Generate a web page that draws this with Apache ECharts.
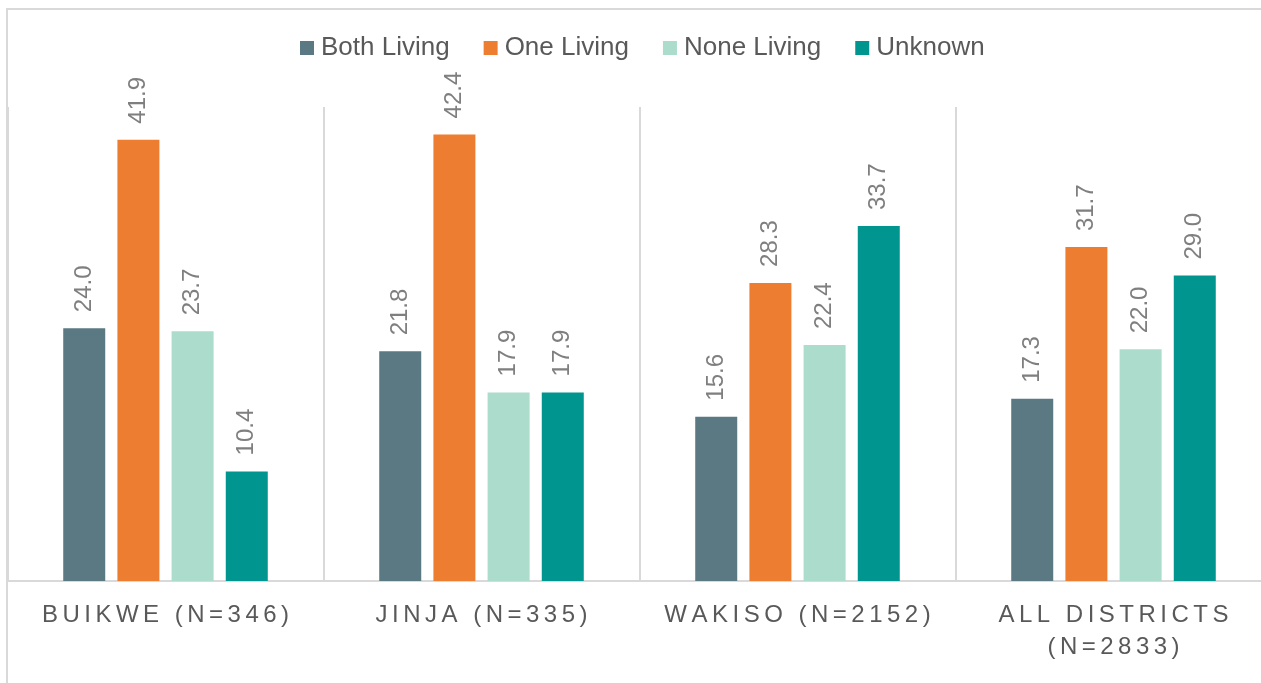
<!DOCTYPE html>
<html>
<head>
<meta charset="utf-8">
<title>Parents living</title>
<script src="https://cdn.jsdelivr.net/npm/echarts@6/dist/echarts.min.js"></script>
<style>
  html, body { margin: 0; padding: 0; background: #fff; }
  #main-chart { width: 1261px; height: 683px; }
</style>
</head>
<body>
<div id="main-chart"></div>
<script>
var districts = ['BUIKWE (N=346)', 'JINJA (N=335)', 'WAKISO (N=2152)', 'ALL DISTRICTS\n(N=2833)'];
var bothLiving = [24.0, 21.8, 15.6, 17.3];
var oneLiving = [41.9, 42.4, 28.3, 31.7];
var noneLiving = [23.7, 17.9, 22.4, 22.0];
var unknown = [10.4, 17.9, 33.7, 29.0];

var font = 'Liberation Sans, Arial, sans-serif';

// spaced out capitals under the axis, one rich token per character
function spaced(value) {
    return value.split('\n').map(function (line) {
        return line.split('').map(function (ch) { return '{s|' + ch + '}'; }).join('');
    }).join('\n');
}

function barSeries(name, data, color) {
    return {
        name: name,
        type: 'bar',
        data: data,
        barWidth: 42,
        barGap: '29%',
        itemStyle: { color: color },
        label: {
            show: true,
            position: 'top',
            rotate: 90,
            align: 'left',
            verticalAlign: 'middle',
            distance: 16,
            color: '#7f7f7f',
            fontSize: 24,
            fontFamily: font,
            formatter: function (p) { return p.value.toFixed(1); }
        }
    };
}

var myChart = echarts.init(document.getElementById('main-chart'));
var option = {
    animation: false,
    textStyle: { fontFamily: font },
    graphic: [{
        type: 'polyline',
        shape: { points: [[1261, 9], [7, 9], [7, 683]] },
        style: { stroke: '#d9d9d9', lineWidth: 2, fill: null }
    }],
    legend: {
        top: 30,
        left: 295,
        itemWidth: 14,
        itemHeight: 14,
        itemGap: 34,
        icon: 'rect',
        textStyle: { color: '#595959', fontSize: 26, fontFamily: font, padding: [0, 0, 0, 2] }
    },
    grid: { left: 7.5, top: 107, width: 1264, height: 474, containLabel: false, outerBoundsMode: 'none' },
    xAxis: {
        type: 'category',
        data: districts,
        axisLine: { lineStyle: { color: '#d9d9d9', width: 2 } },
        axisTick: { show: false },
        splitLine: { show: true, lineStyle: { color: '#d9d9d9', width: 2 } },
        axisLabel: {
            interval: 0,
            margin: 18,
            formatter: spaced,
            rich: {
                s: { fontSize: 24, color: '#595959', fontFamily: font, padding: [0, 2.25], lineHeight: 32 }
            }
        }
    },
    yAxis: {
        type: 'value',
        min: 0,
        max: 45,
        show: false,
        splitLine: { show: false }
    },
    series: [
        barSeries('Both Living', bothLiving, '#5b7982'),
        barSeries('One Living', oneLiving, '#ed7d31'),
        barSeries('None Living', noneLiving, '#acdccb'),
        barSeries('Unknown', unknown, '#00968f')
    ]
};
myChart.setOption(option, true);
</script>
</body>
</html>
